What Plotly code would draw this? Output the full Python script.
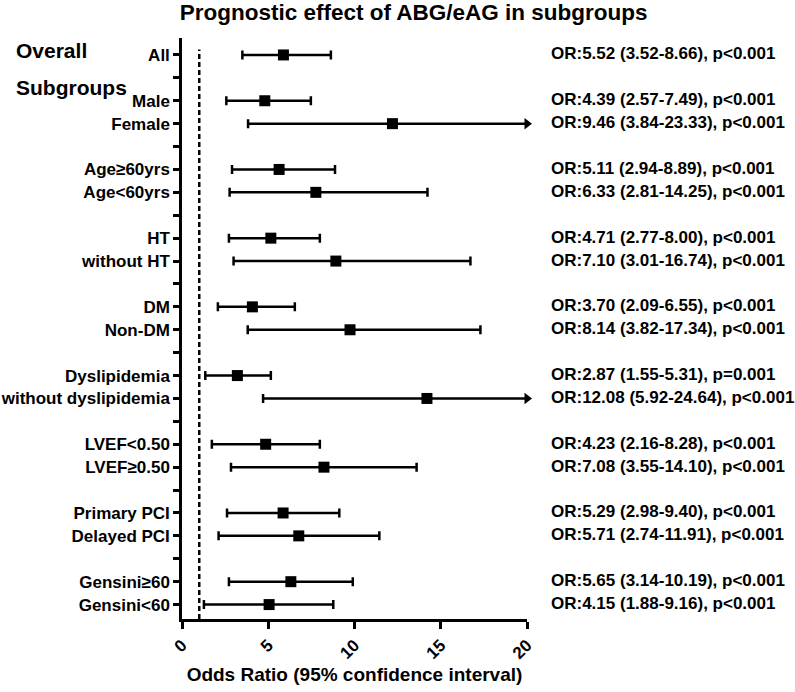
import plotly.graph_objects as go

# subgroup rows (top to bottom) and positions on the category axis
labels = ["All", "Male", "Female", "Age≥60yrs", "Age<60yrs", "HT", "without HT",
          "DM", "Non-DM", "Dyslipidemia", "without dyslipidemia", "LVEF<0.50",
          "LVEF≥0.50", "Primary PCI", "Delayed PCI", "Gensini≥60", "Gensini<60"]
rows = [0, 2, 3, 5, 6, 8, 9, 11, 12, 14, 15, 17, 18, 20, 21, 23, 24]
separators = [1, 4, 7, 10, 13, 16, 19, 22]

# values as drawn in the figure
estimate = [5.88, 4.80, 12.20, 5.63, 7.76, 5.15, 8.92, 4.08, 9.74, 3.21, 14.20,
            4.85, 8.23, 5.86, 6.77, 6.31, 5.05]
ci_low = [3.50, 2.57, 3.83, 2.90, 2.76, 2.72, 2.99, 2.08, 3.81, 1.35, 4.70,
          1.73, 2.84, 2.61, 2.12, 2.72, 1.27]
ci_high = [8.63, 7.47, 23.33, 8.87, 14.23, 7.99, 16.72, 6.54, 17.30, 5.15, 24.64,
           7.99, 13.60, 9.12, 11.44, 9.90, 8.77]

or_text = ["OR:5.52 (3.52-8.66), p<0.001", "OR:4.39 (2.57-7.49), p<0.001",
           "OR:9.46 (3.84-23.33), p<0.001", "OR:5.11 (2.94-8.89), p<0.001",
           "OR:6.33 (2.81-14.25), p<0.001", "OR:4.71 (2.77-8.00), p<0.001",
           "OR:7.10 (3.01-16.74), p<0.001", "OR:3.70 (2.09-6.55), p<0.001",
           "OR:8.14 (3.82-17.34), p<0.001", "OR:2.87 (1.55-5.31), p=0.001",
           "OR:12.08 (5.92-24.64), p<0.001", "OR:4.23 (2.16-8.28), p<0.001",
           "OR:7.08 (3.55-14.10), p<0.001", "OR:5.29 (2.98-9.40), p<0.001",
           "OR:5.71 (2.74-11.91), p<0.001", "OR:5.65 (3.14-10.19), p<0.001",
           "OR:4.15 (1.88-9.16), p<0.001"]

x_ticks = [0, 5, 10, 15, 20]
x_max = 20
ref_line = 1

FONT = "Arial, Liberation Sans, sans-serif"

inside = [i for i in range(len(rows)) if ci_high[i] <= x_max]
beyond = [i for i in range(len(rows)) if ci_high[i] > x_max]

fig = go.Figure()

# intervals that fit on the axis
fig.add_trace(go.Scatter(
    x=[estimate[i] for i in inside],
    y=[rows[i] for i in inside],
    mode="markers",
    marker=dict(symbol="square", size=11, color="black"),
    error_x=dict(type="data", symmetric=False,
                 array=[ci_high[i] - estimate[i] for i in inside],
                 arrayminus=[estimate[i] - ci_low[i] for i in inside],
                 color="black", thickness=2.5, width=4.5),
    showlegend=False, hoverinfo="skip"))

# intervals running past the axis end -> arrow
for i in beyond:
    fig.add_trace(go.Scatter(
        x=[estimate[i], x_max], y=[rows[i], rows[i]],
        mode="lines", line=dict(color="black", width=2.5),
        showlegend=False, hoverinfo="skip"))
fig.add_trace(go.Scatter(
    x=[estimate[i] for i in beyond],
    y=[rows[i] for i in beyond],
    mode="markers",
    marker=dict(symbol="square", size=11, color="black"),
    error_x=dict(type="data", symmetric=False,
                 array=[0 for i in beyond],
                 arrayminus=[estimate[i] - ci_low[i] for i in beyond],
                 color="black", thickness=2.5, width=4.5),
    showlegend=False, hoverinfo="skip"))
fig.add_trace(go.Scatter(
    x=[x_max for i in beyond],
    y=[rows[i] for i in beyond],
    mode="markers",
    marker=dict(symbol="triangle-right", size=10, color="black"),
    cliponaxis=False, showlegend=False, hoverinfo="skip"))

# reference line at OR = 1
fig.add_shape(type="line", xref="x", yref="paper", x0=ref_line, x1=ref_line,
              y0=0, y1=0.98, line=dict(color="black", width=2.5, dash="5px,3px"))

# OR text on the right
for i in range(len(rows)):
    fig.add_annotation(x=1.065, xref="paper", y=rows[i], yref="y",
                       text=or_text[i], showarrow=False, xanchor="left",
                       yanchor="middle", yshift=1,
                       font=dict(family=FONT, size=17, color="black", weight="bold"))

# section headers
fig.add_annotation(x=-0.487, xref="paper", y=-0.2, yref="y", text="Overall",
                   showarrow=False, xanchor="left", yanchor="middle",
                   font=dict(family=FONT, size=21, color="black", weight="bold"))
fig.add_annotation(x=-0.487, xref="paper", y=1.4, yref="y", text="Subgroups",
                   showarrow=False, xanchor="left", yanchor="middle",
                   font=dict(family=FONT, size=21, color="black", weight="bold"))

fig.update_layout(
    width=795, height=692,
    margin=dict(l=182, r=268, t=38, b=73),
    plot_bgcolor="white", paper_bgcolor="white",
    title=dict(text="Prognostic effect of ABG/eAG in subgroups",
               x=0.226, xanchor="left", y=0.982, yanchor="middle",
               pad=dict(l=0, r=0, t=0, b=0),
               font=dict(family=FONT, size=22.5, color="black", weight="bold")),
    xaxis=dict(range=[0, x_max], tickvals=x_ticks, tickangle=-45,
               ticks="outside", ticklen=7, tickwidth=2.5, tickcolor="black",
               showline=True, linewidth=2.5, linecolor="black",
               showgrid=False, zeroline=False, automargin=False,
               tickfont=dict(family=FONT, size=17, color="black", weight="bold"),
               title=dict(text="Odds Ratio (95% confidence interval)", standoff=6,
                          font=dict(family=FONT, size=19, color="black", weight="bold"))),
    yaxis=dict(range=[24.63, -0.74], tickvals=rows + separators,
               ticktext=labels + ["" for s in separators],
               ticks="outside", ticklen=6, tickwidth=2.5, tickcolor="black",
               showline=True, linewidth=2.5, linecolor="black",
               showgrid=False, zeroline=False, automargin=False,
               tickfont=dict(family=FONT, size=17, color="black", weight="bold")),
)

# drop the default page margin so the figure sits at the window's corner
fig.write_html("out.html", config=dict(displayModeBar=False),
               post_script="document.body.style.margin='0';document.body.style.overflow='hidden';")
